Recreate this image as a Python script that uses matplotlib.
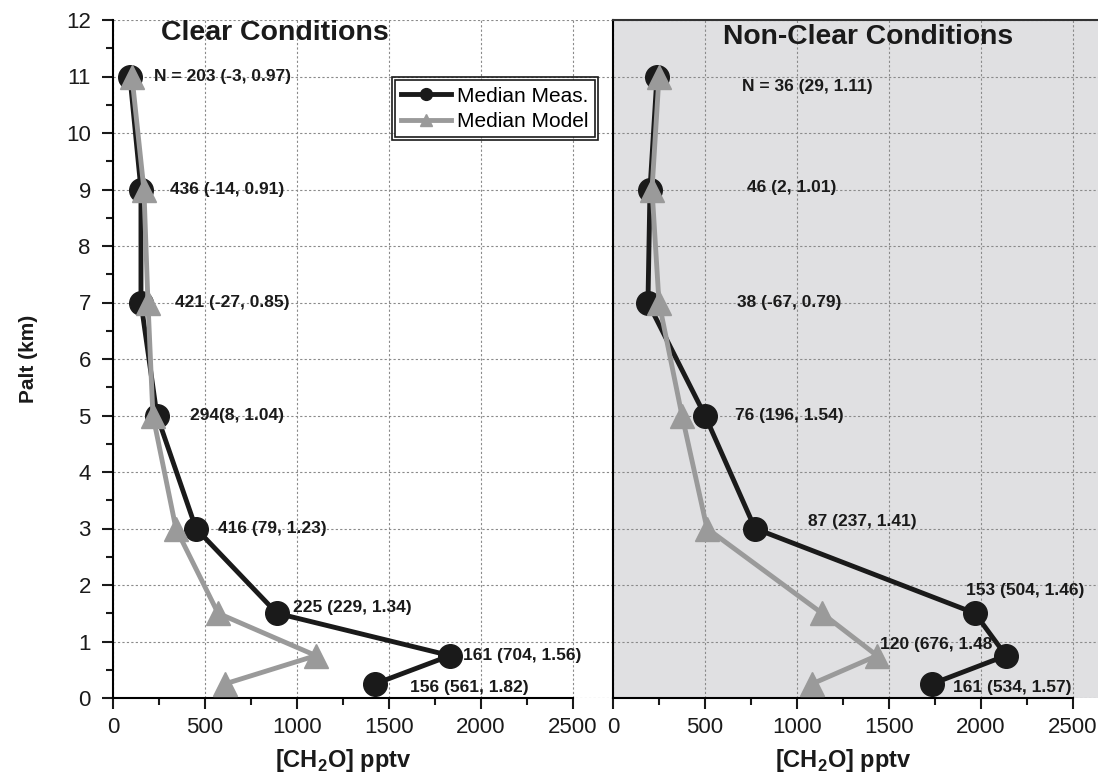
import numpy as np
import matplotlib
matplotlib.use("Agg")
import matplotlib.pyplot as plt
from matplotlib.patches import Rectangle
from matplotlib.ticker import MultipleLocator

plt.rcParams['font.family'] = ['Liberation Sans', 'DejaVu Sans']
plt.rcParams['mathtext.fontset'] = 'custom'
plt.rcParams['mathtext.rm'] = 'Liberation Sans'
plt.rcParams['mathtext.bf'] = 'Liberation Sans:bold'

# -------------------- DATA --------------------
alt = [11, 9, 7, 5, 3, 1.5, 0.75, 0.25]

clear_meas = [92, 152, 152, 239, 451, 891, 1832, 1424]
clear_model = [103, 168, 190, 217, 342, 571, 1103, 609]

nonclear_meas = [239, 201, 190, 500, 772, 1967, 2136, 1734]
nonclear_model = [250, 212, 250, 375, 511, 1136, 1435, 1082]

clear_labels = ["N = 203 (-3, 0.97)", "436 (-14, 0.91)", "421 (-27, 0.85)", "294(8, 1.04)",
                "416 (79, 1.23)", "225 (229, 1.34)", "161 (704, 1.56)", "156 (561, 1.82)"]
clear_label_xy = [(223, 11), (310, 9), (337, 7), (418, 5), (571, 3), (978, 1.6), (1902, 0.75), (1614, 0.18)]

nonclear_labels = ["N = 36 (29, 1.11)", "46 (2, 1.01)", "38 (-67, 0.79)", "76 (196, 1.54)",
                   "87 (237, 1.41)", "153 (504, 1.46)", "120 (676, 1.48", "161 (534, 1.57)"]
nonclear_label_xy = [(701, 10.83), (728, 9.03), (674, 7.0), (663, 5.0), (1060, 3.13),
                     (1918, 1.9), (1451, 0.94), (1848, 0.18)]

BLACK = '#1a1a1a'
GRAY = '#9a9a9a'

fig = plt.figure(figsize=(10.98, 7.73), dpi=100)
ax1 = fig.add_axes([113 / 1098, 75 / 773, 499 / 1098, 678 / 773])
ax2 = fig.add_axes([613 / 1098, 75 / 773, 485 / 1098, 678 / 773])


def style_axis(ax, xmax):
    ax.set_xlim(0, xmax)
    ax.set_ylim(0, 12)
    ax.yaxis.set_major_locator(MultipleLocator(1))
    ax.yaxis.set_minor_locator(MultipleLocator(0.5))
    ax.set_xticks(np.arange(0, 2501, 500))
    ax.set_xticks(np.arange(0, 2501, 250), minor=True)
    ax.grid(True, which='major', color='#8a8a8a', linestyle=(0, (2, 2)), linewidth=0.8)
    ax.tick_params(axis='both', which='major', direction='out', length=8, width=1.5,
                   labelsize=16, color=BLACK, labelcolor=BLACK)
    ax.tick_params(axis='y', which='major', pad=8)
    ax.tick_params(axis='x', which='major', pad=6)
    ax.tick_params(axis='both', which='minor', direction='out', length=5, width=1.5, color=BLACK)
    ax.spines['right'].set_visible(False)
    ax.spines['bottom'].set_bounds(0, 2500)
    ax.spines['bottom'].set_linewidth(1.5)
    ax.spines['left'].set_linewidth(1.5)
    ax.set_axisbelow(True)


def draw_profile(ax, meas, model):
    ax.plot(meas, alt, color=BLACK, lw=3.5, marker='o', ms=17, label='Median Meas.', zorder=3,
            clip_on=False)
    ax.plot(model, alt, color=GRAY, lw=3.5, marker='^', ms=17, label='Median Model', zorder=4,
            clip_on=False)


# -------------------- LEFT PANEL ------------------------
style_axis(ax1, 2712)
ax1.spines['top'].set_visible(False)
draw_profile(ax1, clear_meas, clear_model)
for txt, (x, y) in zip(clear_labels, clear_label_xy):
    ax1.text(x, y, txt, fontsize=12.5, fontweight='bold', va='center', ha='left', color=BLACK, zorder=5)
ax1.text(880, 11.77, "Clear Conditions", fontsize=20.5, fontweight='bold', ha='center', va='center',
         color=BLACK)
ax1.set_ylabel("Palt (km)", fontsize=15, fontweight='bold', color=BLACK, labelpad=20)
ax1.set_xlabel(r"[CH$_\mathbf{2}$O] pptv", fontsize=17, fontweight='bold', color=BLACK)
ax1.xaxis.set_label_coords(0.461, -0.072)

leg = ax1.legend(loc='upper left', bbox_to_anchor=(0.565, 0.911), fontsize=15, frameon=True,
                 fancybox=False, handlelength=2.4, borderpad=0.3, labelspacing=0.3,
                 handletextpad=0.3, borderaxespad=0, markerscale=0.5)
leg.get_frame().set_edgecolor(BLACK)
leg.get_frame().set_linewidth(1.2)
leg.get_frame().set_alpha(1)

# -------------------- RIGHT PANEL ------------------------
style_axis(ax2, 2636)
ax2.set_facecolor('#e0e0e2')
ax2.spines['top'].set_linewidth(1.5)
ax2.spines['top'].set_color('#333333')
ax2.tick_params(axis='y', which='both', left=False, labelleft=False)
draw_profile(ax2, nonclear_meas, nonclear_model)
for txt, (x, y) in zip(nonclear_labels, nonclear_label_xy):
    ax2.text(x, y, txt, fontsize=12.5, fontweight='bold', va='center', ha='left', color=BLACK, zorder=5)
ax2.text(1386, 11.7, "Non-Clear Conditions", fontsize=20.3, fontweight='bold', ha='center',
         va='center', color=BLACK)
ax2.set_xlabel(r"[CH$_\mathbf{2}$O] pptv", fontsize=17, fontweight='bold', color=BLACK)
ax2.xaxis.set_label_coords(0.474, -0.072)

# double border around the legend
fig.canvas.draw()
bb = leg.get_window_extent()
pad = 3
W, H = fig.get_size_inches() * fig.dpi
fig.add_artist(Rectangle(((bb.x0 - pad) / W, (bb.y0 - pad) / H), (bb.width + 2 * pad) / W,
                         (bb.height + 2 * pad) / H, transform=fig.transFigure, fill=False,
                         edgecolor=BLACK, lw=1.2, zorder=10))

fig.savefig("out.png", dpi=100)
